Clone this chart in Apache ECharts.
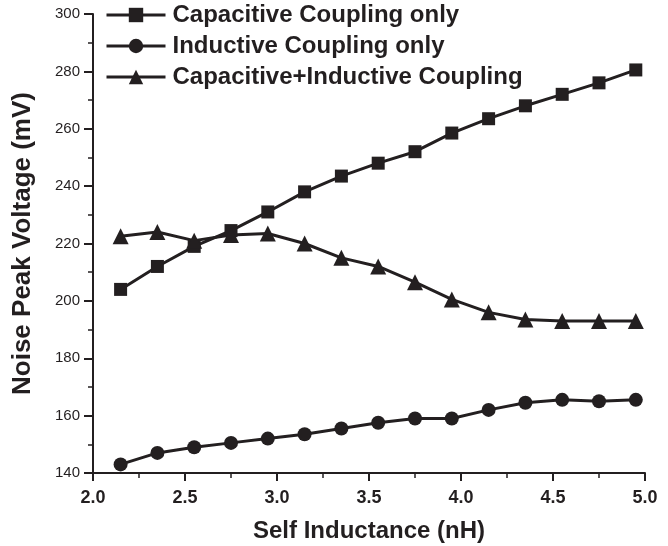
<!DOCTYPE html>
<html><head><meta charset="utf-8">
<script src="https://cdn.jsdelivr.net/npm/echarts@6/dist/echarts.min.js"></script>
<style>html,body{margin:0;padding:0;background:#fff}#c{width:668px;height:546px}</style>
</head><body><div id="c"></div>
<script>
const xValues = [2.15,2.35,2.55,2.75,2.95,3.15,3.35,3.55,3.75,3.95,4.15,4.35,4.55,4.75,4.95];
const capacitive = [204,212,219,224.5,231,238,243.5,248,252,258.5,263.5,268,272,276,280.5];
const inductive = [143,147,149,150.5,152,153.5,155.5,157.5,159,159,162,164.5,165.5,165,165.5];
const combined = [222.5,224,221,223,223.5,220,215,212,206.5,200.5,196,193.5,193,193,193];
const seriesNames = ['Capacitive Coupling only','Inductive Coupling only','Capacitive+Inductive Coupling'];
const C = '#231f20';
const F = 'Liberation Sans, Arial, sans-serif';
function pairs(v){return xValues.map((x,i)=>[x,v[i]]);}
const chart = echarts.init(document.getElementById('c'));
const mk = (name,data,symbol,size)=>({
  name, type:'line', data:pairs(data), symbol, symbolSize:size,
  lineStyle:{color:C,width:3}, itemStyle:{color:C}, animation:false
});
chart.setOption({
  animation:false,
  grid:{left:93,right:23,top:14,bottom:73,containLabel:false,outerBoundsMode:'none'},
  legend:{
    orient:'vertical', left:100, top:-2, itemGap:7, itemWidth:59, itemHeight:18,
    lineStyle:{width:3,color:C},
    textStyle:{fontFamily:F,fontWeight:'bold',fontSize:24,color:C,padding:[0,0,0,2]},
    data:seriesNames
  },
  xAxis:{
    type:'value', min:2.0, max:5.0, interval:0.5,
    name:'Self Inductance (nH)', nameLocation:'middle', nameGap:46,
    nameTextStyle:{fontFamily:F,fontWeight:'bold',fontSize:24,color:C},
    axisLine:{lineStyle:{color:C,width:2}},
    axisTick:{length:8,lineStyle:{color:C,width:2}},
    minorTick:{show:true,splitNumber:2,length:5,lineStyle:{color:C,width:1.5}},
    splitLine:{show:false},
    axisLabel:{fontFamily:F,fontWeight:'bold',fontSize:18,color:C,margin:16,formatter:v=>v.toFixed(1)}
  },
  yAxis:{
    type:'value', min:140, max:300, interval:20,
    name:'Noise Peak Voltage (mV)', nameLocation:'middle', nameGap:57,
    nameTextStyle:{fontFamily:F,fontWeight:'bold',fontSize:26,color:C},
    axisLine:{show:true,lineStyle:{color:C,width:2}},
    axisTick:{show:true,length:9,lineStyle:{color:C,width:2}},
    minorTick:{show:true,splitNumber:2,length:5,lineStyle:{color:C,width:1.5}},
    splitLine:{show:false},
    axisLabel:{fontFamily:F,fontSize:15,color:C,margin:13}
  },
  series:[
    mk(seriesNames[0],capacitive,'rect',13),
    mk(seriesNames[1],inductive,'circle',14),
    mk(seriesNames[2],combined,'triangle',16)
  ]
});
</script></body></html>
